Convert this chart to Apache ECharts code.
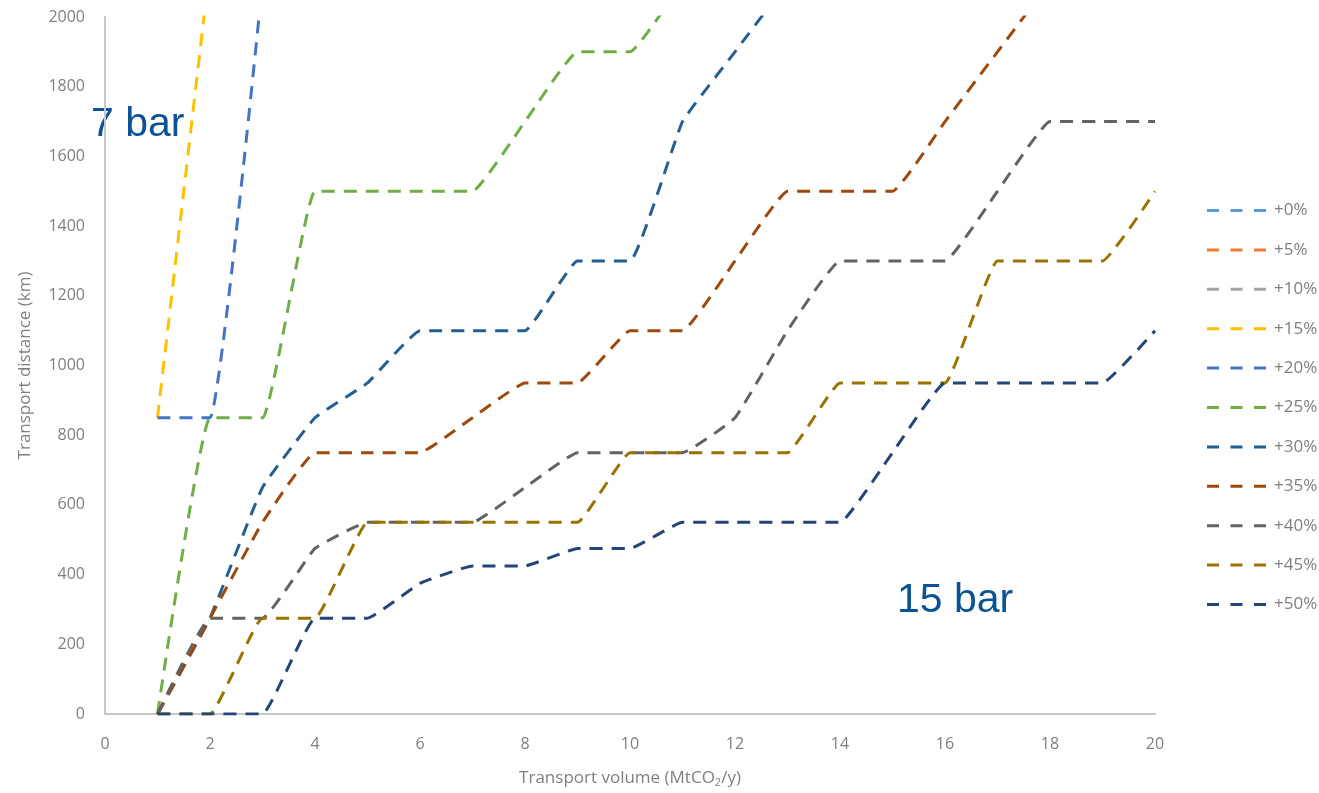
<!DOCTYPE html>
<html>
<head>
<meta charset="utf-8">
<script src="https://cdn.jsdelivr.net/npm/echarts@6/dist/echarts.min.js"></script>
<style>
    html, body { margin: 0; padding: 0; background: #fff; }
    #chart { width: 1319px; height: 793px; }
</style>
</head>
<body>
<div id="chart"></div>
<script type="text/javascript">
    // transport volume (MtCO2/y)
    var volumes = [1, 2, 3, 4, 5, 6, 7, 8, 9, 10, 11, 12, 13, 14, 15, 16, 17, 18, 19, 20];
    var seriesNames = ['+0%', '+5%', '+10%', '+15%', '+20%', '+25%', '+30%', '+35%', '+40%', '+45%', '+50%'];
    var seriesColors = ['#5B9BD5', '#ED7D31', '#A5A5A5', '#FFC000', '#4472C4', '#70AD47', '#255E91', '#9E480E', '#636363', '#997300', '#264478'];

    // transport distance (km), one list per pressure margin; the first three lie outside the plot
    var dist0 = [];
    var dist5 = [];
    var dist10 = [];
    var dist15 = [850, 2150];
    var dist20 = [850, 850, 2100];
    var dist25 = [0, 850, 850, 1500, 1500, 1500, 1500, 1700, 1900, 1900, 2100];
    var dist30 = [0, 275, 650, 850, 950, 1100, 1100, 1100, 1300, 1300, 1700, 1900, 2100];
    var dist35 = [0, 275, 550, 750, 750, 750, 850, 950, 950, 1100, 1100, 1300, 1500, 1500, 1500, 1700, 1900, 2100];
    var dist40 = [0, 275, 275, 475, 550, 550, 550, 650, 750, 750, 750, 850, 1100, 1300, 1300, 1300, 1500, 1700, 1700, 1700];
    var dist45 = [0, 0, 275, 275, 550, 550, 550, 550, 550, 750, 750, 750, 750, 950, 950, 950, 1300, 1300, 1300, 1500];
    var dist50 = [0, 0, 0, 275, 275, 375, 425, 425, 475, 475, 550, 550, 550, 550, 750, 950, 950, 950, 950, 1100];

    var allDist = [dist0, dist5, dist10, dist15, dist20, dist25, dist30, dist35, dist40, dist45, dist50];

    var chart = echarts.init(document.getElementById('chart'));

    var series = [];
    for (var i = 0; i < seriesNames.length; i++) {
        var pts = [];
        for (var j = 0; j < allDist[i].length; j++) {
            pts.push([volumes[j], allDist[i][j]]);
        }
        series.push({
            name: seriesNames[i],
            type: 'line',
            data: pts,
            smooth: 0.1,
            showSymbol: false,
            symbol: 'none',
            clip: true,
            color: seriesColors[i],
            lineStyle: { color: seriesColors[i], width: 3, type: [13, 9] }
        });
    }

    var labelFont = '"Open Sans", "Noto Sans", sans-serif';
    var dashIcon = 'path://M0,0h12v3h-12z M23.5,0h12v3h-12z M47,0h12v3h-12z';

    var option = {
        animation: false,
        backgroundColor: '#fff',
        grid: { left: 105, right: 164, top: 17, bottom: 78 },
        legend: {
            orient: 'vertical',
            left: 1202,
            top: 197,
            icon: dashIcon,
            itemWidth: 59,
            itemHeight: 3,
            itemGap: 22.4,
            data: seriesNames,
            textStyle: { color: '#7f7f7f', fontSize: 17, fontFamily: labelFont, padding: [0, 0, 0, 3] }
        },
        xAxis: {
            type: 'value',
            min: 0,
            max: 20,
            interval: 2,
            name: 'Transport volume (MtCO{sub|2}/y)',
            nameLocation: 'middle',
            nameGap: 54,
            nameTextStyle: {
                color: '#7f7f7f', fontSize: 17, fontFamily: labelFont,
                rich: { sub: { fontSize: 11, verticalAlign: 'bottom', padding: [9, 0, 0, 0], color: '#7f7f7f', fontFamily: labelFont } }
            },
            axisLine: { show: true, lineStyle: { color: '#c8c8c8', width: 2 } },
            axisTick: { show: false },
            splitLine: { show: false },
            axisLabel: { color: '#7f7f7f', fontSize: 16, margin: 22, fontFamily: labelFont }
        },
        yAxis: {
            type: 'value',
            min: 0,
            max: 2000,
            interval: 200,
            name: 'Transport distance (km)',
            nameLocation: 'middle',
            nameGap: 71,
            nameTextStyle: { color: '#7f7f7f', fontSize: 17, fontFamily: labelFont },
            axisLine: { show: true, lineStyle: { color: '#c8c8c8', width: 2 } },
            axisTick: { show: false },
            splitLine: { show: false },
            axisLabel: {
                color: '#7f7f7f', fontSize: 16, margin: 20, fontFamily: labelFont,
                formatter: function (v) { return String(v); }
            }
        },
        graphic: [
            {
                type: 'text', left: 91, top: 104,
                style: { text: '7 bar', fill: '#0B5394', font: '41px "Liberation Sans", Arial, sans-serif' }
            },
            {
                type: 'text', left: 897, top: 580,
                style: { text: '15 bar', fill: '#0B5394', font: '41px "Liberation Sans", Arial, sans-serif' }
            }
        ],
        series: series
    };

    chart.setOption(option);
</script>
</body>
</html>
